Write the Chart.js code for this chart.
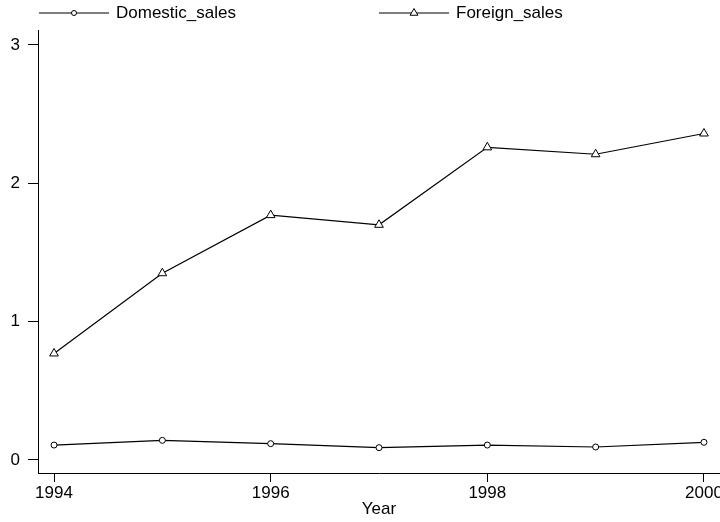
<!DOCTYPE html>
<html>
<head>
<meta charset="utf-8">
<script src="https://cdn.jsdelivr.net/npm/chart.js@4"></script>
<style>
  html, body { margin: 0; padding: 0; background: #fff; }
  #wrap { width: 720px; height: 522px; }
</style>
</head>
<body>
<div id="wrap"><canvas id="salesChart"></canvas></div>
<script>
const years = [1994, 1995, 1996, 1997, 1998, 1999, 2000];
const domesticSales = [0.108, 0.142, 0.118, 0.089, 0.108, 0.094, 0.128];
const foreignSales = [0.77, 1.35, 1.77, 1.70, 2.26, 2.21, 2.36];
const yTicks = [0, 1, 2, 3];
const xTicks = [1994, 1996, 1998, 2000];

const FONT = "'Liberation Sans', Arial, sans-serif";

// Legend across the top: a short line with the series marker in the middle
const topLegend = {
  id: "topLegend",
  afterDraw(chart) {
    const ctx = chart.ctx;
    const items = [
      { x: 39, text: "Domestic_sales", ds: 0 },
      { x: 379, text: "Foreign_sales", ds: 1 }
    ];
    const y = 13;
    ctx.save();
    items.forEach(it => {
      const ds = chart.data.datasets[it.ds];
      ctx.strokeStyle = "#000";
      ctx.lineWidth = 1.2;
      ctx.beginPath();
      ctx.moveTo(it.x, y);
      ctx.lineTo(it.x + 70, y);
      ctx.stroke();
      ctx.fillStyle = "#fff";
      ctx.lineWidth = 1;
      Chart.helpers.drawPoint(ctx, {
        pointStyle: ds.pointStyle,
        radius: ds.pointStyle === "triangle" ? 4.5 : 2.5,
        rotation: 0,
        borderWidth: 1
      }, it.x + 35, y);
      ctx.fillStyle = "#000";
      ctx.font = "17px " + FONT;
      ctx.textBaseline = "middle";
      ctx.textAlign = "left";
      ctx.fillText(it.text, it.x + 77, y);
    });
    ctx.restore();
  }
};

new Chart(document.getElementById("salesChart"), {
  type: "line",
  data: {
    datasets: [
      {
        label: "Domestic_sales",
        data: years.map((yr, i) => ({ x: yr, y: domesticSales[i] })),
        borderColor: "#000",
        borderWidth: 1.2,
        pointStyle: "circle",
        pointRadius: 3,
        pointBorderWidth: 1,
        pointBorderColor: "#000",
        pointBackgroundColor: "#fff",
        tension: 0
      },
      {
        label: "Foreign_sales",
        data: years.map((yr, i) => ({ x: yr, y: foreignSales[i] })),
        borderColor: "#000",
        borderWidth: 1.2,
        pointStyle: "triangle",
        pointRadius: 5,
        pointBorderWidth: 1,
        pointBorderColor: "#000",
        pointBackgroundColor: "#fff",
        tension: 0
      }
    ]
  },
  options: {
    responsive: true,
    maintainAspectRatio: false,
    animation: false,
    layout: { autoPadding: false, padding: { top: 30, right: 0, left: 0, bottom: 0 } },
    plugins: {
      legend: { display: false },
      tooltip: { enabled: false }
    },
    scales: {
      x: {
        type: "linear",
        min: 1993.852,
        max: 2000.148,
        afterFit: s => {
          s.height = 49;
          s.paddingLeft = 0;
          s.paddingRight = 0;
        },
        afterBuildTicks: s => { s.ticks = xTicks.map(v => ({ value: v })); },
        ticks: {
          color: "#000",
          font: { family: FONT, size: 17 },
          padding: 1,
          maxRotation: 0,
          callback: v => String(v)
        },
        grid: { drawOnChartArea: false, drawTicks: true, tickLength: 9, color: "#000", lineWidth: 1 },
        border: { display: true, color: "#000", width: 1 },
        title: {
          display: true,
          text: "Year",
          color: "#000",
          font: { family: FONT, size: 17 },
          padding: { top: 0, bottom: 2 }
        }
      },
      y: {
        min: -0.094,
        max: 3.108,
        afterFit: s => {
          s.width = 38;
          s.paddingTop = 0;
          s.paddingBottom = 0;
        },
        afterBuildTicks: s => { s.ticks = yTicks.map(v => ({ value: v })); },
        ticks: {
          color: "#000",
          font: { family: FONT, size: 17 },
          padding: 8,
          callback: v => String(v)
        },
        grid: { drawOnChartArea: false, drawTicks: true, tickLength: 10, color: "#000", lineWidth: 1 },
        border: { display: true, color: "#000", width: 1 }
      }
    }
  },
  plugins: [topLegend]
});
</script>
</body>
</html>
